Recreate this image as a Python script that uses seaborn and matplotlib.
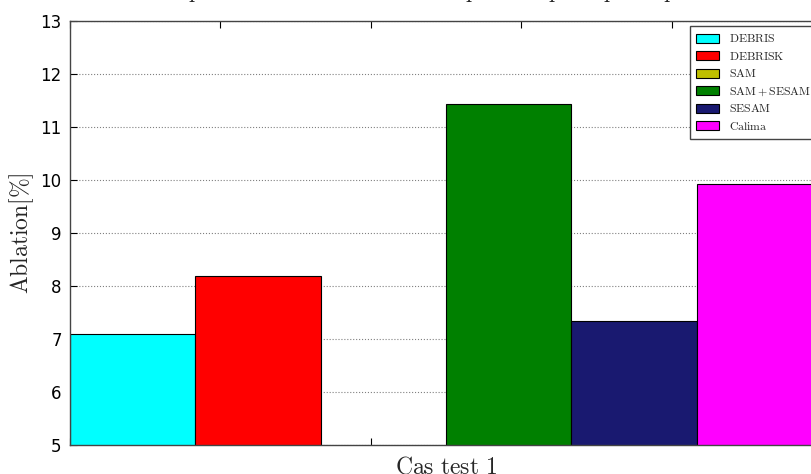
import matplotlib
matplotlib.use('Agg')
import matplotlib.pyplot as plt
import numpy as np
import pandas as pd
import seaborn as sns

codes = ['DEBRIS', 'DEBRISK', 'SAM', 'SAM+SESAM', 'SESAM', 'Calima']
ablation = [7.09, 8.19, 0.0, 11.43, 7.34, 9.92]
cases = ['Cas test 1'] * len(codes)
colours = ['#00ffff', '#ff0000', '#bfbf00', '#008000', '#191970', '#ff00ff']
y_ticks = [5, 6, 7, 8, 9, 10, 11, 12, 13]

sns.set_style('white')
plt.rcParams['font.family'] = ['DejaVu Sans']
plt.rcParams['mathtext.fontset'] = 'cm'

df = pd.DataFrame({'cas': cases, 'code': codes, 'ablation': ablation})

fig = plt.figure(figsize=(8.12, 4.74), dpi=100)
ax = fig.add_axes([70 / 812, 29 / 474, 752 / 812, 424 / 474])

sns.barplot(data=df, x='cas', y='ablation', hue='code', hue_order=codes,
            palette=colours, saturation=1, width=1.0, edgecolor='black',
            linewidth=0.8, ax=ax)

ax.set_xlim(-0.5, 0.5)
ax.set_ylim(5, 13)
ax.set_yticks(y_ticks)
ax.set_yticklabels([str(t) for t in y_ticks], fontsize=12)
ax.set_xticks(np.linspace(-0.5, 0.5, 6))
ax.set_xticklabels([])
ax.tick_params(direction='in', length=5, width=0.8, top=True, right=True,
               bottom=True, left=True, colors='black', pad=6)
ax.yaxis.grid(True, linestyle=':', color='gray', linewidth=0.8)
ax.xaxis.grid(False)
ax.set_axisbelow(True)
for s in ax.spines.values():
    s.set_color('#444444')
    s.set_linewidth(1.0)

ax.set_xlabel(r'$\mathrm{Cas\ test\ 1}$', fontsize=17, labelpad=1)
ax.set_ylabel(r'$\mathrm{Ablation[\%]}$', fontsize=17, labelpad=3)
ax.set_title(r"$\mathrm{Comparaison\ de\ l'ablation\ totale\ pour\ les\ principaux\ quantit\acute{e}s}$",
             fontsize=16, pad=16)

handles, labels = ax.get_legend_handles_labels()
labels = [r'$\mathrm{' + l + '}$' for l in labels]
ax.legend(handles, labels, loc='upper right', fontsize=8.5, frameon=True,
          fancybox=False, edgecolor='#444444', framealpha=1,
          borderaxespad=0.45, handlelength=2.0, handleheight=0.8,
          labelspacing=0.38, borderpad=0.5, handletextpad=0.8)

fig.savefig('out.png', dpi=100)
